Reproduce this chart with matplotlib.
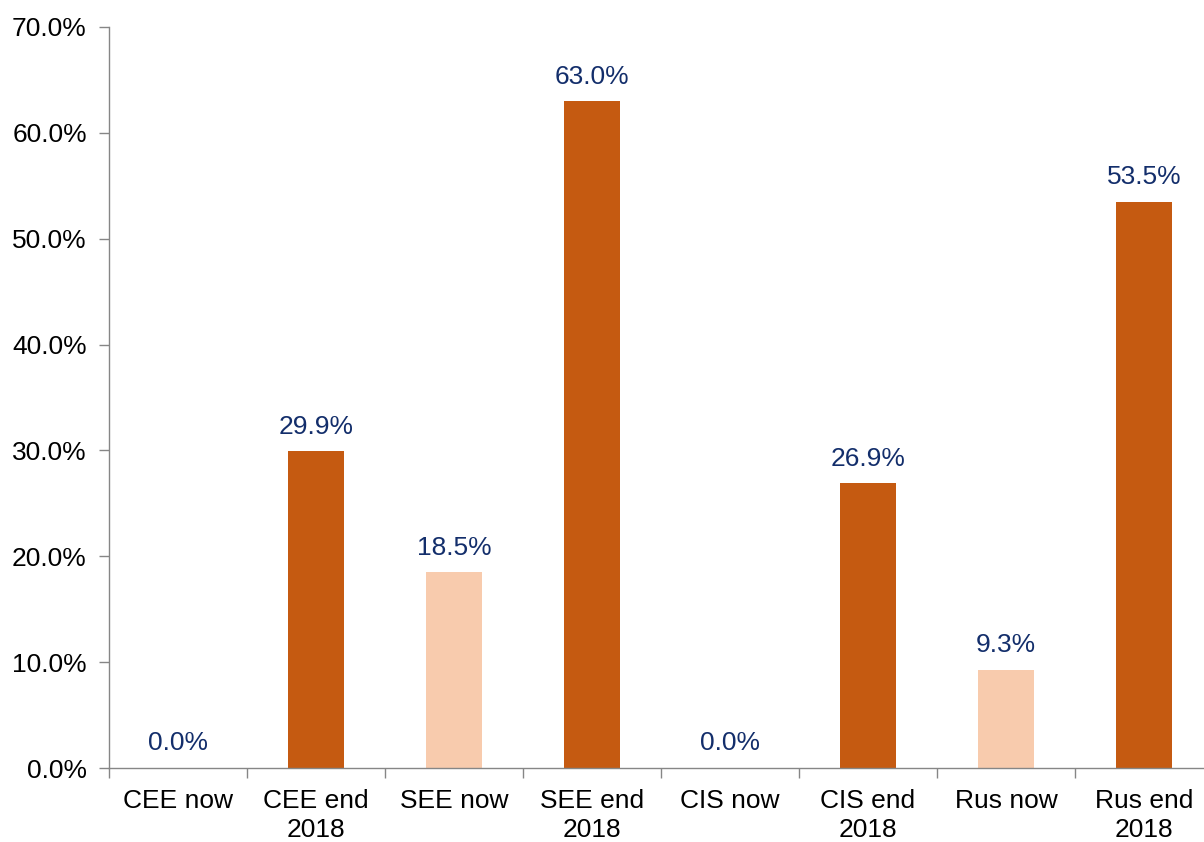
import matplotlib.pyplot as plt
import numpy as np

plt.rcParams['font.family'] = ['Liberation Sans', 'DejaVu Sans']

categories = ["CEE now", "CEE end\n2018", "SEE now", "SEE end\n2018",
              "CIS now", "CIS end\n2018", "Rus now", "Rus end\n2018"]
values = [0.0, 29.9, 18.5, 63.0, 0.0, 26.9, 9.3, 53.5]
dark = "#C55A11"
light = "#F8CBAD"
colors = [light, dark, light, dark, light, dark, light, dark]

fig = plt.figure(figsize=(12.04, 8.42), dpi=100)
ax = fig.add_axes([109/1204, 1-768/842, 1104/1204, 741/842])

x = np.arange(len(categories))
bars = ax.bar(x, values, width=0.41, color=colors)

for xi, v in zip(x, values):
    ax.annotate(f"{v:.1f}%", (xi, v), xytext=(0, 9), textcoords="offset points",
                ha="center", va="bottom", fontsize=19, color="#132E6B")

ax.set_xlim(-0.5, len(categories) - 0.5)
ax.set_ylim(0, 70)
ax.set_yticks(np.arange(0, 71, 10))
ax.set_yticklabels([f"{t:.1f}%" for t in np.arange(0, 71, 10)])
ax.set_xticks(x)
ax.set_xticklabels(categories, linespacing=1.25)
ax.set_xticks(np.arange(-0.5, len(categories), 1), minor=True)

ax.tick_params(axis="x", which="major", length=0, pad=15, labelsize=19)
ax.tick_params(axis="x", which="minor", length=7, color="#868686", width=1)
ax.tick_params(axis="y", length=7, color="#868686", width=1, pad=9, labelsize=19)

for s in ["top", "right"]:
    ax.spines[s].set_visible(False)
for s in ["left", "bottom"]:
    ax.spines[s].set_color("#868686")
    ax.spines[s].set_linewidth(1)

fig.savefig("out.png", dpi=100)
